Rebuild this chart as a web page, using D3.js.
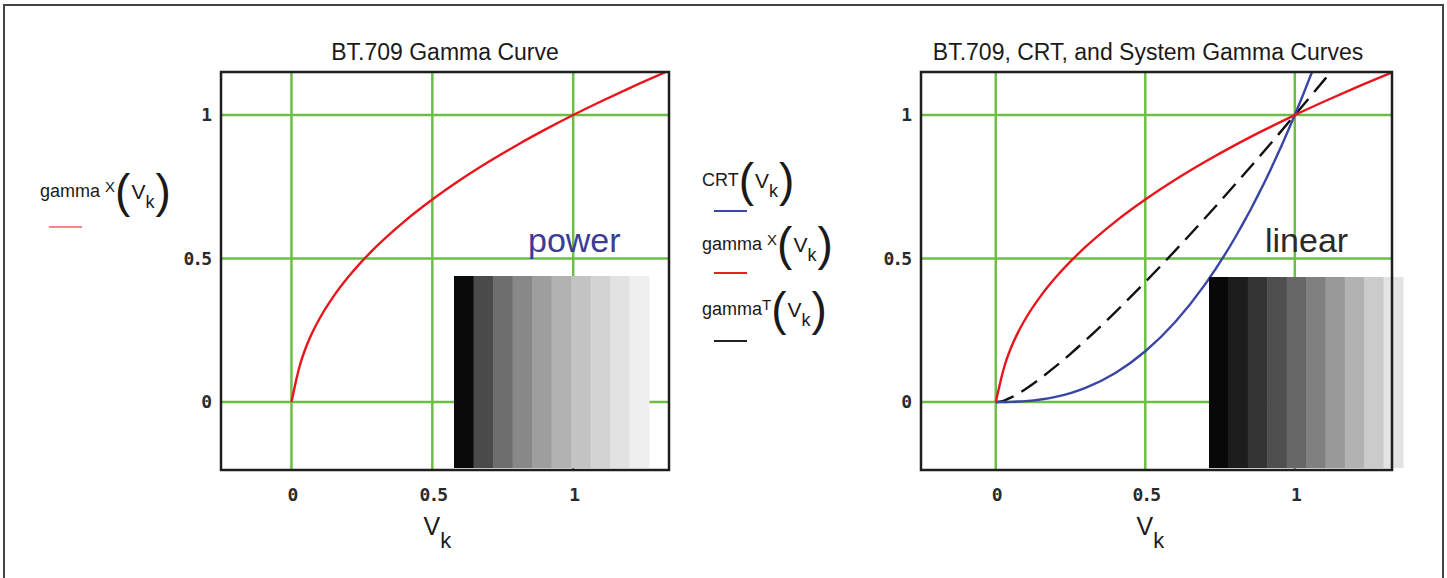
<!DOCTYPE html>
<html>
<head>
<meta charset="utf-8">
<script src="https://cdn.jsdelivr.net/npm/d3@7"></script>
<style>
  html, body { margin: 0; padding: 0; background: #fff; }
  svg { display: block; }
</style>
</head>
<body>
<svg id="chart" width="1447" height="578"></svg>
<script>
// ---------- data ----------
const vk = [0, 0.005, 0.01, 0.018, 0.03, 0.05, 0.075, 0.1, 0.15, 0.2, 0.25, 0.3, 0.4, 0.5, 0.6, 0.7, 0.8, 0.9, 1.0, 1.1, 1.2, 1.34];
const gammaX = [0, 0.0225, 0.045, 0.081, 0.128, 0.1865, 0.2436, 0.2909, 0.369, 0.4337, 0.490, 0.5403, 0.6287, 0.7055, 0.7744, 0.837, 0.895, 0.949, 1.0, 1.048, 1.094, 1.155];
const crt = [0, 0.0000018, 0.00001, 0.000043, 0.000156, 0.00056, 0.00154, 0.00316, 0.0087, 0.0179, 0.03125, 0.0493, 0.1012, 0.1768, 0.2789, 0.41, 0.5724, 0.7684, 1.0, 1.269, 1.577, 2.08];
const gammaT = [0, 0.000076, 0.00043, 0.00187, 0.00586, 0.01502, 0.0293, 0.0456, 0.0827, 0.1239, 0.168, 0.2146, 0.3134, 0.418, 0.5277, 0.641, 0.7578, 0.8773, 1.0, 1.1243, 1.2518, 1.43];

const tickValues = [0, 0.5, 1];
const tickLabels = ["0", "0.5", "1"];

const titles = ["BT.709 Gamma Curve", "BT.709, CRT, and System Gamma Curves"];
const axisLabelMain = "V";
const axisLabelSub = "k";

const patchesPower  = ["#0a0a0a", "#4a4a4a", "#6e6e6e", "#888888", "#9e9e9e", "#b1b1b1", "#c3c3c3", "#d3d3d3", "#e2e2e2", "#efefef"];
const patchesLinear = ["#080808", "#1d1d1d", "#343434", "#4e4e4e", "#676767", "#808080", "#999999", "#b2b2b2", "#cbcbcb", "#e3e3e3"];
const patchWords = ["power", "linear"];

const legendLeft = [{name: "gamma", sup: "X", color: "#f08a8a"}];
const legendMid = [
  {name: "CRT", sup: "", color: "#3b48a8"},
  {name: "gamma", sup: "X", color: "#e02424"},
  {name: "gamma", sup: "T", color: "#222222"}
];

// ---------- layout ----------
const svg = d3.select("#chart");
const GRID = "#6cbf45";
const FRAME = "#1e1e1e";

// outer border
svg.append("rect").attr("x", 4).attr("y", 5).attr("width", 1439).attr("height", 600)
  .attr("fill", "none").attr("stroke", "#444").attr("stroke-width", 2);

const yDomain = [-0.237, 1.15];
const yRange = [470, 72];

const panels = [
  {id: "L", x0: 221, x1: 669, xDomain: [-0.25, 1.34], ytickX: 210, titleX: 445,
   patches: patchesPower, patchBox: [454, 276, 649, 468], word: patchWords[0], wordColor: "#3c3c96", wordX: 528,
   series: [{values: gammaX, color: "#e8151c", dash: null}]},
  {id: "R", x0: 921, x1: 1392, xDomain: [-0.25, 1.325], ytickX: 910, titleX: 1148,
   patches: patchesLinear, patchBox: [1209, 277, 1403, 468], word: patchWords[1], wordColor: "#2a2a2a", wordX: 1265,
   series: [
     {values: gammaT, color: "#111111", dash: "19,9"},
     {values: crt, color: "#3a46a6", dash: null},
     {values: gammaX, color: "#e8151c", dash: null}
   ]}
];

const y = d3.scaleLinear().domain(yDomain).range(yRange);

panels.forEach((p, pi) => {
  const x = d3.scaleLinear().domain(p.xDomain).range([p.x0, p.x1]);
  const g = svg.append("g");

  // title
  g.append("text").attr("x", p.titleX).attr("y", 60)
    .attr("text-anchor", "middle").attr("font-family", "Liberation Sans, Arial, sans-serif")
    .attr("font-size", 23).attr("fill", "#1a1a1a").text(titles[pi]);

  // clip
  svg.append("clipPath").attr("id", "clip" + p.id).append("rect")
    .attr("x", p.x0).attr("y", yRange[1]).attr("width", p.x1 - p.x0).attr("height", yRange[0] - yRange[1]);

  // grid
  g.append("g").selectAll("line").data(tickValues).join("line")
    .attr("x1", d => x(d)).attr("x2", d => x(d)).attr("y1", yRange[1]).attr("y2", yRange[0])
    .attr("stroke", GRID).attr("stroke-width", 2.5);
  g.append("g").selectAll("line").data(tickValues).join("line")
    .attr("y1", d => y(d)).attr("y2", d => y(d)).attr("x1", p.x0).attr("x2", p.x1)
    .attr("stroke", GRID).attr("stroke-width", 2.5);

  // curves
  const line = d3.line().x((d, i) => x(vk[i])).y(d => y(d)).curve(d3.curveMonotoneX);
  const cg = g.append("g").attr("clip-path", "url(#clip" + p.id + ")");
  p.series.forEach(s => {
    cg.append("path").datum(s.values).attr("d", line)
      .attr("fill", "none").attr("stroke", s.color).attr("stroke-width", 2.4)
      .attr("stroke-dasharray", s.dash);
  });

  // word label
  g.append("text").attr("x", p.wordX).attr("y", 252).attr("font-family", "Liberation Sans, Arial, sans-serif")
    .attr("font-size", 34).attr("fill", p.wordColor).text(p.word);

  // gray patches
  const pb = p.patchBox;
  const band = d3.scaleBand().domain(d3.range(p.patches.length)).range([pb[0], pb[2]]);
  g.append("g").selectAll("rect").data(p.patches).join("rect")
    .attr("x", (d, i) => band(i)).attr("y", pb[1])
    .attr("width", band.bandwidth() + 0.5).attr("height", pb[3] - pb[1])
    .attr("fill", d => d);

  // frame
  g.append("rect").attr("x", p.x0).attr("y", yRange[1]).attr("width", p.x1 - p.x0).attr("height", yRange[0] - yRange[1])
    .attr("fill", "none").attr("stroke", FRAME).attr("stroke-width", 2.5);

  // x axis tick labels
  const xAxis = d3.axisBottom(x).tickValues(tickValues).tickFormat((d, i) => tickLabels[i]).tickSize(0).tickPadding(0);
  const xa = g.append("g").attr("transform", `translate(0, 488)`).call(xAxis);
  xa.select(".domain").remove();
  xa.selectAll("text").attr("font-family", "DejaVu Sans Mono, monospace").attr("font-size", 18)
    .attr("font-weight", "bold").attr("fill", "#2a2a2a").attr("dy", "0.71em").attr("letter-spacing", -2);

  // y axis tick labels
  const yAxis = d3.axisLeft(y).tickValues(tickValues).tickFormat((d, i) => tickLabels[i]).tickSize(0).tickPadding(0);
  const ya = g.append("g").attr("transform", `translate(${p.ytickX}, 0)`).call(yAxis);
  ya.select(".domain").remove();
  ya.selectAll("text").attr("font-family", "DejaVu Sans Mono, monospace").attr("font-size", 18)
    .attr("font-weight", "bold").attr("fill", "#2a2a2a").attr("letter-spacing", -2);

  // axis label V_k
  const al = g.append("text").attr("x", x(0.5) + 5).attr("y", 535).attr("text-anchor", "middle")
    .attr("font-family", "Liberation Sans, Arial, sans-serif").attr("fill", "#1a1a1a");
  al.append("tspan").attr("font-size", 25).text(axisLabelMain);
  al.append("tspan").attr("font-size", 22).attr("dy", 13).text(axisLabelSub);
});

// ---------- legends ----------
function legendLabel(item, lx, ly, lineX, lineY) {
  const t = svg.append("text").attr("x", lx).attr("y", ly)
    .attr("font-family", "Liberation Sans, Arial, sans-serif").attr("fill", "#1a1a1a");
  t.append("tspan").attr("font-size", 18).text(item.name + (item.sup === "X" ? " " : ""));
  let shift = 0;
  if (item.sup) { t.append("tspan").attr("font-size", 15).attr("dy", -5).text(item.sup); shift = -5; }
  t.append("tspan").attr("font-size", 46).attr("dy", 10 - shift).text("(");
  t.append("tspan").attr("font-size", 21).attr("dy", -8).attr("dx", 1).text(axisLabelMain);
  t.append("tspan").attr("font-size", 18).attr("dy", 9).text(axisLabelSub);
  t.append("tspan").attr("font-size", 46).attr("dy", -1).attr("dx", 1).text(")");
  svg.append("line").attr("x1", lineX).attr("x2", lineX + 33).attr("y1", lineY).attr("y2", lineY)
    .attr("stroke", item.color).attr("stroke-width", 2.2);
}

legendLeft.forEach(item => legendLabel(item, 40, 197, 49, 227));
const midRows = [[186, 211], [250, 273], [315, 341]];
legendMid.forEach((item, i) => legendLabel(item, 702, midRows[i][0], 714, midRows[i][1]));
</script>
</body>
</html>
